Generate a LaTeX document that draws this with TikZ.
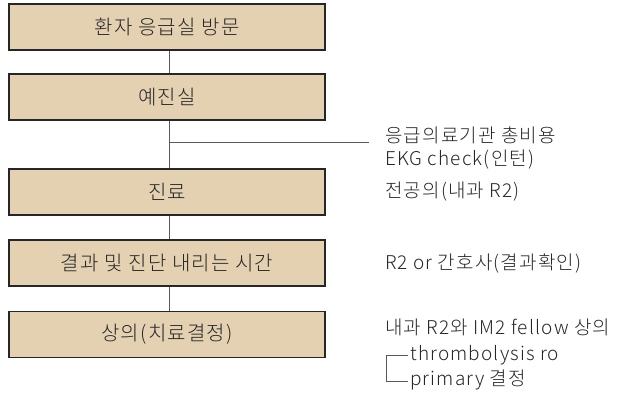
\documentclass[tikz,border=0pt]{standalone}
\usepackage{fontspec}
\setmainfont{Noto Sans CJK KR}[UprightFont=* Light, LetterSpace=6]
\begin{document}
\begin{tikzpicture}[x=1pt,y=-1pt,
  stepbox/.style={draw=black!85, line width=1.3pt, fill=boxfill, minimum width=316pt, minimum height=46pt, inner sep=0pt, font=\fontsize{20}{22}\selectfont, text=black!85},
  conn/.style={draw=black!65, line width=1pt},
  note/.style={anchor=west, inner sep=0pt, font=\fontsize{19}{22}\selectfont, text=black!85}]
\definecolor{boxfill}{HTML}{E4D1B2}
\useasboundingbox (0,0) rectangle (619,403);
\node[stepbox] (b1) at (167,27) {환자 응급실 방문};
\node[stepbox] (b2) at (167,97) {예진실};
\node[stepbox] (b3) at (167,192) {진료};
\node[stepbox] (b4) at (167,263) {결과 및 진단 내리는 시간};
\node[stepbox] (b5) at (167,334.5) {상의(치료결정)};
\draw[conn] ([xshift=2pt]b1.south) -- ([xshift=2pt]b2.north);
\draw[conn] ([xshift=2pt]b2.south) -- ([xshift=2pt]b3.north);
\draw[conn] ([xshift=2pt]b3.south) -- ([xshift=2pt]b4.north);
\draw[conn] ([xshift=2pt]b4.south) -- ([xshift=2pt]b5.north);
\coordinate (br) at (169,143);
\coordinate (brend) at (369,143);
\draw[conn] (br) -- (brend);
\node[note] (n1) at (385,135) {응급의료기관 총비용};
\node[note] (n2) at (385,160) {EKG check(인턴)};
\node[note] (n3) at (385,192) {전공의(내과 R2)};
\node[note] (n4) at (385,263) {R2 or 간호사(결과확인)};
\node[note] (n5) at (385,327) {내과 R2와 IM2 fellow 상의};
\node[note] (n6) at (410,355) {thrombolysis ro};
\node[note] (n7) at (410,380) {primary 결정};
\coordinate (k1) at (408,356);
\coordinate (k2) at (386,356);
\coordinate (k3) at (386,382);
\coordinate (k4) at (408,382);
\draw[conn] (k1) -- (k2) -- (k3) -- (k4);
\end{tikzpicture}
\end{document}
